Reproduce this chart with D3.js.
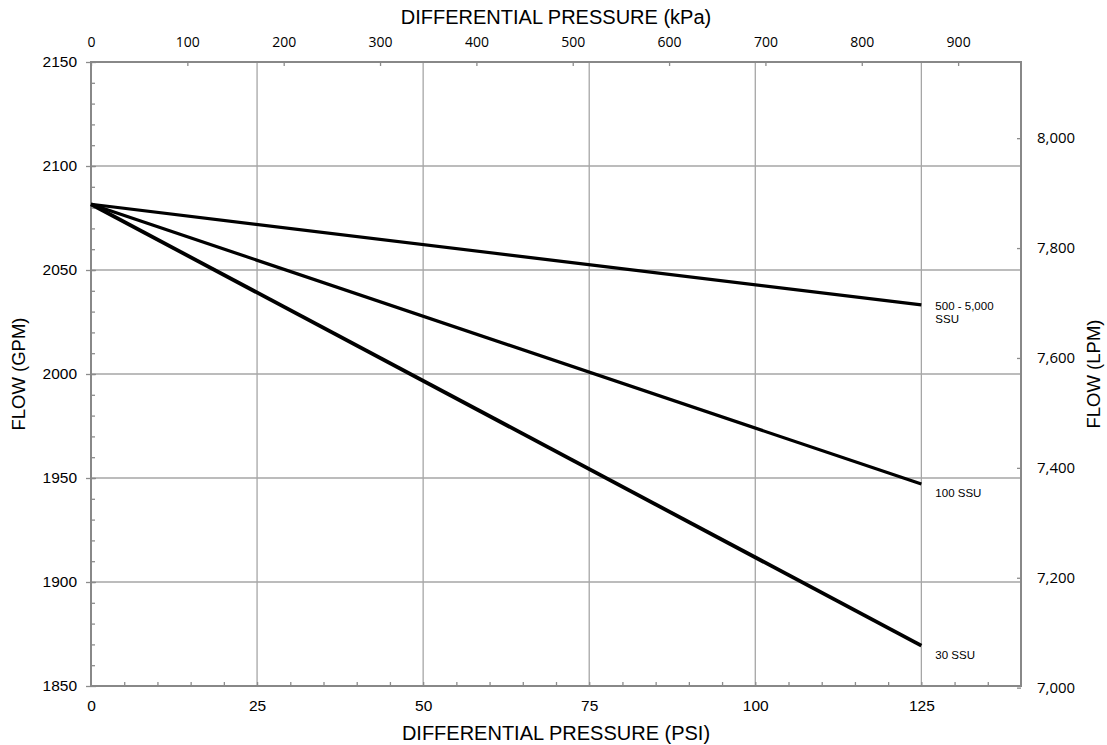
<!DOCTYPE html>
<html>
<head>
<meta charset="utf-8">
<script src="https://cdn.jsdelivr.net/npm/d3@7"></script>
<style>
  body { margin: 0; background: #fff; }
  text { font-family: "Liberation Sans", Arial, sans-serif; fill: #000; }
  .alt text { font-family: "Open Sans", "Liberation Sans", sans-serif; }
</style>
</head>
<body>
<script>
/* chart values */
var psiPoints = [0, 125]
var flow500 = [2081.6, 2033.2]
var flow100 = [2081.6, 1947.1]
var flow30 = [2081.6, 1869.4]
var seriesNames = ["500 - 5,000|SSU", "100 SSU", "30 SSU"]
var psiTicks = [0, 25, 50, 75, 100, 125]
var gpmTicks = [1850, 1900, 1950, 2000, 2050, 2100, 2150]
var kpaTicks = [0, 100, 200, 300, 400, 500, 600, 700, 800, 900]
var lpmTicks = [7000, 7200, 7400, 7600, 7800, 8000]

var KPA_PER_PSI = 6.89476
var LPM_PER_GPM = 3.78541

var W = 1107, H = 745
var padL = 91, padR = 1021, padT = 62, padB = 686

var svg = d3.select("body").append("svg")
  .attr("width", W)
  .attr("height", H)

var x = d3.scaleLinear().domain([0, 140]).range([padL, padR])
var y = d3.scaleLinear().domain([1850, 2150]).range([padB, padT])
var xTop = d3.scaleLinear().domain([0, 140 * KPA_PER_PSI]).range([padL, padR])
var yRight = d3.scaleLinear().domain([1850 * LPM_PER_GPM, 2150 * LPM_PER_GPM]).range([padB, padT])

// grid
var grid = svg.append("g").attr("class", "grid")
grid.selectAll("line.v")
  .data(psiTicks.filter(function(d) { return d > 0 }))
  .enter().append("line")
  .attr("x1", function(d) { return x(d) }).attr("x2", function(d) { return x(d) })
  .attr("y1", padT).attr("y2", padB)
  .style("stroke", "#a6a6a6").style("stroke-width", 1.3)
grid.selectAll("line.h")
  .data(gpmTicks.filter(function(d) { return d > 1850 && d < 2150 }))
  .enter().append("line")
  .attr("y1", function(d) { return y(d) }).attr("y2", function(d) { return y(d) })
  .attr("x1", padL).attr("x2", padR)
  .style("stroke", "#a6a6a6").style("stroke-width", 1.3)

// axes
function styleAxis(g) {
  g.select(".domain").remove()
  g.selectAll(".tick line").style("stroke", "#8c8c8c").style("stroke-width", 1.3)
  g.selectAll(".tick text").style("font-size", "15.5px")
}

// bottom (PSI): minor ticks every 5, inward
svg.append("g").attr("transform", "translate(0," + padB + ")")
  .call(d3.axisBottom(x).tickValues(d3.range(5, 140, 5)).tickSize(-4).tickFormat(""))
  .call(styleAxis)
svg.append("g").attr("transform", "translate(0," + padB + ")")
  .call(d3.axisBottom(x).tickValues(psiTicks).tickSize(0).tickPadding(14))
  .call(styleAxis)

// left (GPM): minor every 10 inward, majors crossing
svg.append("g").attr("transform", "translate(" + padL + ",0)")
  .call(d3.axisRight(y).tickValues(d3.range(1860, 2150, 10)).tickSize(4).tickFormat(""))
  .call(styleAxis)
svg.append("g").attr("transform", "translate(" + (padL - 5) + ",0)")
  .call(d3.axisRight(y).tickValues(gpmTicks).tickSize(10).tickFormat(""))
  .call(styleAxis)
svg.append("g").attr("transform", "translate(" + padL + ",0)")
  .call(d3.axisLeft(y).tickValues(gpmTicks).tickSize(0).tickPadding(14).tickFormat(d3.format("d")))
  .call(styleAxis)

// top (kPa)
var topAxis = svg.append("g").attr("class", "alt").attr("transform", "translate(0," + padT + ")")
  .call(d3.axisTop(xTop).tickValues(kpaTicks).tickSize(-4))
  .call(styleAxis)
topAxis.selectAll(".tick text").attr("y", -15).style("font-size", "14px")

// right (LPM)
svg.append("g").attr("class", "alt").attr("transform", "translate(" + padR + ",0)")
  .call(d3.axisRight(yRight).tickValues(lpmTicks).tickSize(-4).tickFormat(d3.format(",")))
  .call(styleAxis)
  .selectAll(".tick text").attr("x", 16).style("font-size", "15px")

// frame
svg.append("rect")
  .attr("x", padL).attr("y", padT)
  .attr("width", padR - padL).attr("height", padB - padT)
  .style("fill", "none").style("stroke", "#888").style("stroke-width", 2)

// series
var series = [
  {name: seriesNames[0], values: flow500, width: 3.2, dy: 0},
  {name: seriesNames[1], values: flow100, width: 3.2, dy: 8},
  {name: seriesNames[2], values: flow30, width: 3.8, dy: 8}
]

var line = d3.line()
  .x(function(d) { return x(d[0]) })
  .y(function(d) { return y(d[1]) })

svg.append("g").selectAll("path")
  .data(series)
  .enter().append("path")
  .attr("d", function(s) { return line(d3.zip(psiPoints, s.values)) })
  .style("fill", "none")
  .style("stroke", "#000")
  .style("stroke-width", function(s) { return s.width })

var labels = svg.append("g").selectAll("text")
  .data(series)
  .enter().append("text")
  .attr("x", x(psiPoints[1]) + 14)
  .attr("y", function(s) { return y(s.values[s.values.length - 1]) + s.dy + 5 })
  .style("font-size", "11.5px")
labels.each(function(s) {
  var parts = s.name.split("|")
  var t = d3.select(this)
  parts.forEach(function(p, i) {
    t.append("tspan").attr("x", x(psiPoints[1]) + 14).attr("dy", i == 0 ? 0 : 13.5).text(p)
  })
})

// axis titles
svg.append("text")
  .attr("x", (padL + padR) / 2).attr("y", 24)
  .style("text-anchor", "middle").style("font-size", "20px")
  .text("DIFFERENTIAL PRESSURE (kPa)")
svg.append("text")
  .attr("x", (padL + padR) / 2).attr("y", 740)
  .style("text-anchor", "middle").style("font-size", "20px")
  .text("DIFFERENTIAL PRESSURE (PSI)")
svg.append("text")
  .attr("transform", "translate(25," + (padT + padB) / 2 + ") rotate(-90)")
  .style("text-anchor", "middle").style("font-size", "18.5px")
  .text("FLOW (GPM)")
svg.append("text")
  .attr("transform", "translate(1100," + (padT + padB) / 2 + ") rotate(-90)")
  .style("text-anchor", "middle").style("font-size", "18.5px")
  .text("FLOW (LPM)")
</script>
</body>
</html>
